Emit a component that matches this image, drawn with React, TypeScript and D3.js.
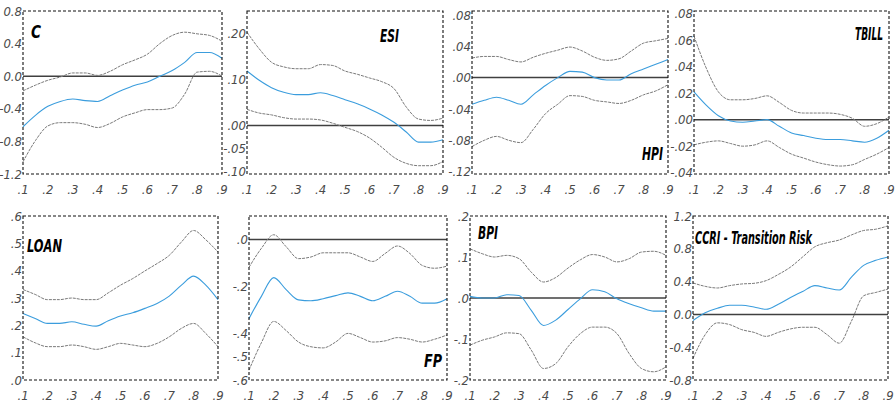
import React from "react";
import * as d3 from "d3";

const QUANTILES = [0.1, 0.15, 0.2, 0.25, 0.3, 0.35, 0.4, 0.45, 0.5, 0.55, 0.6, 0.65, 0.7, 0.75, 0.8, 0.85, 0.9];
const X_TICKS = [0.1, 0.2, 0.3, 0.4, 0.5, 0.6, 0.7, 0.8, 0.9];
const X_TICK_LABELS = [".1", ".2", ".3", ".4", ".5", ".6", ".7", ".8", ".9"];

const TITLES = ["C", "ESI", "HPI", "TBILL", "LOAN", "FP", "BPI", "CCRI - Transition Risk"];

// C
const C_MID = [-0.62, -0.48, -0.37, -0.31, -0.28, -0.30, -0.31, -0.24, -0.17, -0.11, -0.07, 0.0, 0.07, 0.17, 0.29, 0.29, 0.22];
const C_UP = [-0.18, -0.11, -0.05, -0.01, 0.04, 0.04, 0.01, 0.06, 0.14, 0.20, 0.27, 0.40, 0.50, 0.54, 0.52, 0.50, 0.43];
const C_LO = [-1.05, -0.79, -0.61, -0.57, -0.57, -0.59, -0.63, -0.58, -0.50, -0.45, -0.41, -0.41, -0.39, -0.22, 0.05, 0.06, 0.0];
const C_YTICKS = [0.8, 0.4, 0.0, -0.4, -0.8, -1.2];
const C_YLABELS = ["0.8", "0.4", "0.0", "-0.4", "-0.8", "-1.2"];

// ESI
const ESI_MID = [0.118, 0.098, 0.082, 0.072, 0.067, 0.067, 0.071, 0.065, 0.056, 0.047, 0.036, 0.023, 0.007, -0.014, -0.036, -0.036, -0.031];
const ESI_UP = [0.202, 0.166, 0.137, 0.127, 0.123, 0.123, 0.132, 0.130, 0.118, 0.111, 0.103, 0.095, 0.080, 0.040, 0.014, 0.011, 0.016];
const ESI_LO = [0.035, 0.027, 0.023, 0.017, 0.014, 0.014, 0.012, 0.005, -0.004, -0.013, -0.027, -0.047, -0.069, -0.082, -0.087, -0.087, -0.078];
const ESI_YTICKS = [0.2, 0.1, 0.0, -0.05, -0.1];
const ESI_YLABELS = [".20", ".10", ".00", "-.05", "-.10"];

// HPI
const HPI_MID = [-0.034, -0.029, -0.025, -0.029, -0.034, -0.022, -0.010, 0.0, 0.008, 0.007, 0.0, -0.003, -0.003, 0.005, 0.011, 0.017, 0.023];
const HPI_UP = [0.025, 0.027, 0.027, 0.023, 0.020, 0.026, 0.031, 0.035, 0.039, 0.034, 0.026, 0.022, 0.024, 0.034, 0.044, 0.047, 0.050];
const HPI_LO = [-0.088, -0.080, -0.075, -0.080, -0.083, -0.066, -0.046, -0.034, -0.023, -0.024, -0.029, -0.031, -0.033, -0.029, -0.022, -0.017, -0.009];
const HPI_YTICKS = [0.08, 0.04, 0.0, -0.04, -0.08, -0.12];
const HPI_YLABELS = [".08", ".04", ".00", "-.04", "-.08", "-.12"];

// TBILL
const TBILL_MID = [0.021, 0.011, 0.003, -0.001, -0.002, -0.001, 0.0, -0.005, -0.010, -0.012, -0.014, -0.015, -0.015, -0.016, -0.017, -0.014, -0.008];
const TBILL_UP = [0.063, 0.039, 0.021, 0.015, 0.015, 0.016, 0.018, 0.013, 0.007, 0.005, 0.005, 0.005, 0.004, 0.001, -0.005, -0.003, 0.002];
const TBILL_LO = [-0.019, -0.017, -0.016, -0.018, -0.020, -0.019, -0.016, -0.021, -0.026, -0.029, -0.032, -0.034, -0.035, -0.034, -0.030, -0.026, -0.021];
const TBILL_YTICKS = [0.08, 0.06, 0.04, 0.02, 0.0, -0.02, -0.04];
const TBILL_YLABELS = [".08", ".06", ".04", ".02", ".00", "-.02", "-.04"];

// LOAN
const LOAN_MID = [0.243, 0.225, 0.207, 0.207, 0.213, 0.204, 0.197, 0.217, 0.234, 0.246, 0.262, 0.280, 0.307, 0.347, 0.380, 0.347, 0.294];
const LOAN_UP = [0.331, 0.313, 0.294, 0.294, 0.300, 0.294, 0.294, 0.319, 0.347, 0.371, 0.399, 0.426, 0.456, 0.505, 0.547, 0.513, 0.468];
const LOAN_LO = [0.158, 0.136, 0.122, 0.122, 0.128, 0.122, 0.112, 0.122, 0.134, 0.128, 0.122, 0.134, 0.158, 0.189, 0.207, 0.170, 0.122];
const LOAN_YTICKS = [0.6, 0.5, 0.4, 0.3, 0.2, 0.1, 0.0];
const LOAN_YLABELS = [".6", ".5", ".4", ".3", ".2", ".1", ".0"];

// FP
const FP_MID = [-0.338, -0.243, -0.163, -0.214, -0.258, -0.262, -0.253, -0.240, -0.228, -0.243, -0.262, -0.243, -0.221, -0.243, -0.272, -0.272, -0.253];
const FP_UP = [-0.119, -0.038, 0.020, -0.031, -0.082, -0.075, -0.057, -0.057, -0.057, -0.075, -0.094, -0.060, -0.028, -0.060, -0.111, -0.123, -0.114];
const FP_LO = [-0.558, -0.441, -0.350, -0.389, -0.438, -0.458, -0.463, -0.438, -0.401, -0.419, -0.438, -0.433, -0.419, -0.426, -0.438, -0.426, -0.408];
const FP_YTICKS = [0.0, -0.2, -0.4, -0.5, -0.6];
const FP_YLABELS = [".0", "-.2", "-.4", "-.5", "-.6"];

// BPI
const BPI_MID = [0.004, 0.0, 0.0, 0.008, 0.006, -0.030, -0.067, -0.054, -0.028, -0.002, 0.020, 0.015, -0.002, -0.014, -0.024, -0.032, -0.032];
const BPI_UP = [0.120, 0.108, 0.100, 0.104, 0.096, 0.063, 0.039, 0.050, 0.073, 0.093, 0.106, 0.100, 0.088, 0.096, 0.112, 0.114, 0.104];
const BPI_LO = [-0.115, -0.103, -0.095, -0.085, -0.087, -0.127, -0.172, -0.160, -0.119, -0.087, -0.071, -0.071, -0.087, -0.136, -0.172, -0.180, -0.168];
const BPI_YTICKS = [0.2, 0.1, 0.0, -0.1, -0.2];
const BPI_YLABELS = [".2", ".1", ".0", "-.1", "-.2"];

// CCRI
const CCRI_MID = [-0.074, 0.021, 0.074, 0.111, 0.111, 0.091, 0.062, 0.124, 0.206, 0.280, 0.351, 0.322, 0.297, 0.454, 0.598, 0.660, 0.701];
const CCRI_UP = [0.384, 0.342, 0.322, 0.351, 0.371, 0.379, 0.412, 0.487, 0.577, 0.701, 0.825, 0.874, 0.907, 0.969, 1.023, 1.039, 1.080];
const CCRI_LO = [-0.536, -0.247, -0.103, -0.124, -0.186, -0.219, -0.268, -0.219, -0.177, -0.157, -0.157, -0.247, -0.351, -0.082, 0.227, 0.268, 0.309];
const CCRI_YTICKS = [1.2, 0.8, 0.4, 0.0, -0.4, -0.8];
const CCRI_YLABELS = ["1.2", "0.8", "0.4", "0.0", "-0.4", "-0.8"];

type Panel = {
  title: string;
  mid: number[];
  up: number[];
  lo: number[];
  yTicks: number[];
  yLabels: string[];
  domain: [number, number];
  box: { x0: number; x1: number; y0: number; y1: number };
  titlePos: { x: number; y: number; w: number };
};

const ROW1 = { y0: 11, y1: 174 };
const ROW2 = { y0: 216, y1: 380 };

const PANELS: Panel[] = [
  { title: TITLES[0], mid: C_MID, up: C_UP, lo: C_LO, yTicks: C_YTICKS, yLabels: C_YLABELS, domain: [-1.2, 0.8], box: { x0: 23, x1: 222, ...ROW1 }, titlePos: { x: 31, y: 38, w: 10 } },
  { title: TITLES[1], mid: ESI_MID, up: ESI_UP, lo: ESI_LO, yTicks: ESI_YTICKS, yLabels: ESI_YLABELS, domain: [-0.105, 0.248], box: { x0: 247, x1: 443, ...ROW1 }, titlePos: { x: 380, y: 42, w: 19 } },
  { title: TITLES[2], mid: HPI_MID, up: HPI_UP, lo: HPI_LO, yTicks: HPI_YTICKS, yLabels: HPI_YLABELS, domain: [-0.123, 0.085], box: { x0: 472, x1: 668, ...ROW1 }, titlePos: { x: 642, y: 160, w: 21 } },
  { title: TITLES[3], mid: TBILL_MID, up: TBILL_UP, lo: TBILL_LO, yTicks: TBILL_YTICKS, yLabels: TBILL_YLABELS, domain: [-0.041, 0.082], box: { x0: 694, x1: 889, ...ROW1 }, titlePos: { x: 855, y: 40, w: 28 } },
  { title: TITLES[4], mid: LOAN_MID, up: LOAN_UP, lo: LOAN_LO, yTicks: LOAN_YTICKS, yLabels: LOAN_YLABELS, domain: [0, 0.6], box: { x0: 23, x1: 218, ...ROW2 }, titlePos: { x: 27, y: 252, w: 35 } },
  { title: TITLES[5], mid: FP_MID, up: FP_UP, lo: FP_LO, yTicks: FP_YTICKS, yLabels: FP_YLABELS, domain: [-0.6, 0.1], box: { x0: 249, x1: 447, ...ROW2 }, titlePos: { x: 424, y: 367, w: 18 } },
  { title: TITLES[6], mid: BPI_MID, up: BPI_UP, lo: BPI_LO, yTicks: BPI_YTICKS, yLabels: BPI_YLABELS, domain: [-0.2, 0.2], box: { x0: 470, x1: 666, ...ROW2 }, titlePos: { x: 478, y: 239, w: 20 } },
  { title: TITLES[7], mid: CCRI_MID, up: CCRI_UP, lo: CCRI_LO, yTicks: CCRI_YTICKS, yLabels: CCRI_YLABELS, domain: [-0.8, 1.2], box: { x0: 693, x1: 888, ...ROW2 }, titlePos: { x: 695, y: 244, w: 117 } },
];

const TICK_FONT = "'DejaVu Sans Condensed', 'DejaVu Sans', sans-serif";
const TITLE_FONT = "'DejaVu Sans Condensed', 'DejaVu Sans', sans-serif";

function PanelView({ p }: { p: Panel }) {
  const { box } = p;
  const x = d3.scaleLinear().domain([0.1, 0.9]).range([box.x0, box.x1]);
  const y = d3.scaleLinear().domain(p.domain).range([box.y1, box.y0]);
  const line = d3
    .line<number>()
    .x((_, i) => x(QUANTILES[i]))
    .y((v) => y(v))
    .curve(d3.curveMonotoneX);
  return (
    <g>
      {p.domain[0] < 0 && p.domain[1] > 0 && (
        <line x1={box.x0} x2={box.x1} y1={y(0)} y2={y(0)} stroke="#404040" strokeWidth={1.5} />
      )}
      <path d={line(p.up) || ""} fill="none" stroke="#7a7a7a" strokeWidth={1} strokeDasharray="3 1" />
      <path d={line(p.lo) || ""} fill="none" stroke="#7a7a7a" strokeWidth={1} strokeDasharray="3 1" />
      <path d={line(p.mid) || ""} fill="none" stroke="#3b9ddd" strokeWidth={1.1} />
      <rect x={box.x0} y={box.y0} width={box.x1 - box.x0} height={box.y1 - box.y0} fill="none" stroke="#111" strokeWidth={1.1} strokeDasharray="3 2" />
      {p.yTicks.map((t, i) => (
        <text key={"y" + i} x={box.x0 - 1} y={y(t)} dy="0.36em" textAnchor="end" fontFamily={TICK_FONT} fontStyle="italic" fontSize={13} fill="#4a4a4a">
          {p.yLabels[i]}
        </text>
      ))}
      {X_TICKS.map((t, i) => (
        <text key={"x" + i} x={x(t)} y={box.y1 + 20} textAnchor="middle" fontFamily={TICK_FONT} fontStyle="italic" fontSize={13} fill="#4a4a4a">
          {X_TICK_LABELS[i]}
        </text>
      ))}
      <text x={p.titlePos.x} y={p.titlePos.y} fontFamily={TITLE_FONT} fontWeight="bold" fontStyle="italic" fontSize={17} fill="#000" textLength={p.titlePos.w} lengthAdjust="spacingAndGlyphs">
        {p.title}
      </text>
    </g>
  );
}

export default function App() {
  return (
    <svg width={895} height={407} style={{ position: "absolute", left: 0, top: 0, background: "#fff" }}>
      <rect width={895} height={407} fill="#fff" />
      {PANELS.map((p, i) => (
        <PanelView key={i} p={p} />
      ))}
    </svg>
  );
}
